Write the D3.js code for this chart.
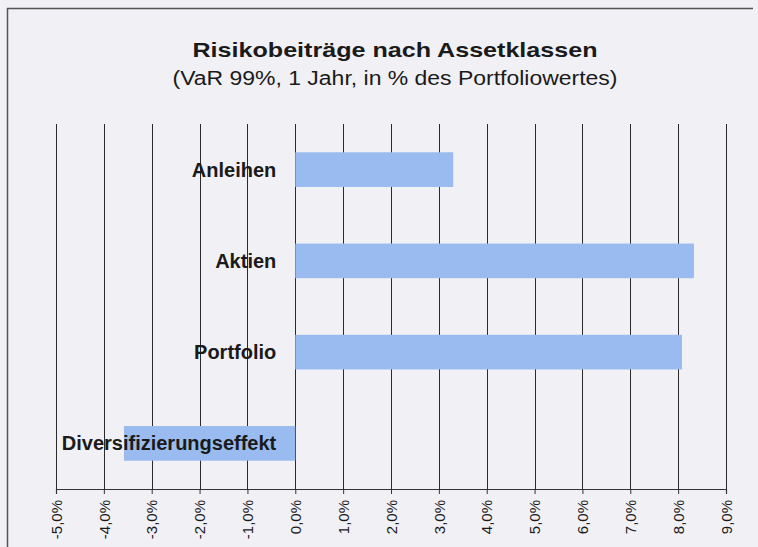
<!DOCTYPE html>
<html>
<head>
<meta charset="utf-8">
<script src="https://cdn.jsdelivr.net/npm/d3@7"></script>
<style>
  body { margin: 0; background: #f1f0f5; }
  svg { display: block; font-family: "Liberation Sans", Arial, sans-serif; }
</style>
</head>
<body>
<div id="chart"></div>
<script>
// Data
const categories = ["Anleihen", "Aktien", "Portfolio", "Diversifizierungseffekt"];
const values = [3.3, 8.33, 8.08, -3.58];
const tickValues = [-5, -4, -3, -2, -1, 0, 1, 2, 3, 4, 5, 6, 7, 8, 9];

const W = 758, H = 547;
const margin = { top: 124, right: 32, bottom: 58, left: 56 };
const width = W - margin.left - margin.right;
const height = H - margin.top - margin.bottom;

const svg = d3.select("#chart").append("svg")
  .attr("width", W)
  .attr("height", H);

// Background and outer frame
svg.append("rect").attr("width", W).attr("height", H).attr("fill", "#f1f0f5");
svg.append("path")
  .attr("d", `M7.5,${H} L7.5,8.5 L753,8.5`)
  .attr("fill", "none")
  .attr("stroke", "#555")
  .attr("stroke-width", 1.5);

// Titles (the scan is a little wider than the font, so stretch to the measured width)
svg.append("text")
  .attr("x", 395).attr("y", 57)
  .attr("text-anchor", "middle")
  .attr("textLength", 405)
  .attr("lengthAdjust", "spacingAndGlyphs")
  .style("font-size", "21px")
  .style("font-weight", "bold")
  .attr("fill", "#1a1a1a")
  .text("Risikobeiträge nach Assetklassen");

svg.append("text")
  .attr("x", 395).attr("y", 85)
  .attr("text-anchor", "middle")
  .attr("textLength", 445)
  .attr("lengthAdjust", "spacingAndGlyphs")
  .style("font-size", "20px")
  .attr("fill", "#1a1a1a")
  .text("(VaR 99%, 1 Jahr, in % des Portfoliowertes)");

const g = svg.append("g")
  .attr("transform", `translate(${margin.left},${margin.top})`);

const x = d3.scaleLinear()
  .domain([-5, 9])
  .range([0, width]);

const y = d3.scaleBand()
  .domain(categories)
  .range([0, height])
  .paddingInner(0.62)
  .paddingOuter(0.31);

// Vertical gridlines
g.append("g")
  .selectAll("line")
  .data(tickValues)
  .enter().append("line")
  .attr("x1", d => Math.round(x(d)) + 0.5)
  .attr("x2", d => Math.round(x(d)) + 0.5)
  .attr("y1", 0)
  .attr("y2", height)
  .attr("stroke", "#2a2a2a")
  .attr("stroke-width", 1);

// Bars
g.selectAll(".bar")
  .data(categories)
  .enter().append("rect")
  .attr("class", "bar")
  .attr("x", (d, i) => x(Math.min(0, values[i])))
  .attr("y", d => y(d))
  .attr("width", (d, i) => Math.abs(x(values[i]) - x(0)))
  .attr("height", y.bandwidth())
  .attr("fill", "#99bbef");

// Category labels
g.selectAll(".cat")
  .data(categories)
  .enter().append("text")
  .attr("class", "cat")
  .attr("x", x(0) - 19)
  .attr("y", d => y(d) + y.bandwidth() / 2)
  .attr("dy", "0.35em")
  .attr("text-anchor", "end")
  .style("font-size", "20px")
  .style("font-weight", "bold")
  .attr("fill", "#1a1a1a")
  .text(d => d);

// X axis
const xAxis = g.append("g")
  .attr("transform", `translate(0,${height})`)
  .call(d3.axisBottom(x)
    .tickValues(tickValues)
    .tickSize(5)
    .tickFormat(d => d3.format(".1f")(d).replace(".", ",").replace("−", "-") + "%"));

xAxis.select(".domain").attr("stroke", "#333").attr("stroke-width", 1.2);
xAxis.selectAll(".tick line").attr("stroke", "#333");
xAxis.selectAll("text")
  .attr("transform", "rotate(-90)")
  .attr("text-anchor", "end")
  .attr("x", -11)
  .attr("y", 0)
  .attr("dy", "0.35em")
  .style("font-size", "15px")
  .style("font-family", "\"Liberation Sans\", Arial, sans-serif")
  .attr("fill", "#1a1a1a");
</script>
</body>
</html>
